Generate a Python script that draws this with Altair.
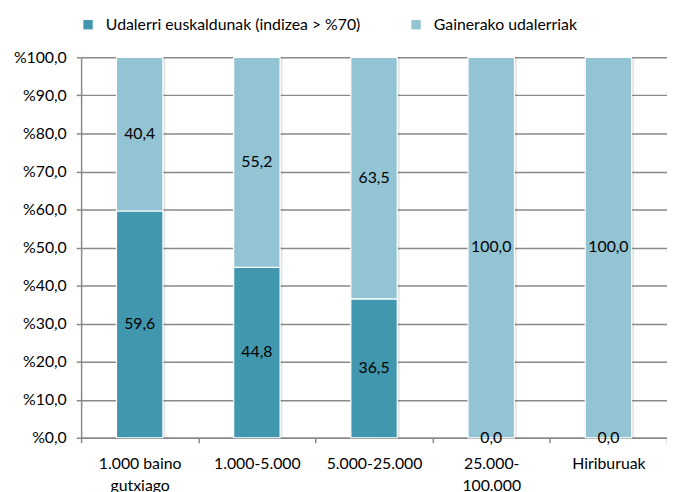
import altair as alt
import pandas as pd

categories = ["1.000 baino gutxiago", "1.000-5.000", "5.000-25.000", "25.000-100.000", "Hiriburuak"]
series = ["Udalerri euskaldunak (indizea > %70)", "Gainerako udalerriak"]
euskaldunak = [59.6, 44.8, 36.5, 0.0, 0.0]
gainerakoak = [40.4, 55.2, 63.5, 100.0, 100.0]
colors = ["#4197AE", "#93C4D4"]
y_ticks = [0, 10, 20, 30, 40, 50, 60, 70, 80, 90, 100]

rows = []
for i, c in enumerate(categories):
    rows.append({"cat": c, "series": series[0], "idx": 0, "value": euskaldunak[i]})
    rows.append({"cat": c, "series": series[1], "idx": 1, "value": gainerakoak[i]})
df = pd.DataFrame(rows)

FONT = "Lato"
GRID = "#898989"

base = alt.Chart(df).transform_stack(
    stack="value", groupby=["cat"], as_=["v0", "v1"], sort=[alt.SortField("idx")]
).transform_calculate(
    mid="(datum.v0 + datum.v1) / 2",
    label="replace(format(datum.value, '.1f'), '.', ',')",
)

x_axis = alt.Axis(
    title=None,
    labelAngle=0,
    tickBand="extent",
    tickSize=5,
    tickColor=GRID,
    tickWidth=1.5,
    domainColor=GRID,
    domainWidth=1.5,
    grid=False,
    labelPadding=13,
    labelLineHeight=22,
    labelFont=FONT,
    labelFontSize=16,
    labelColor="#000",
    labelOverlap=False,
    labelExpr="datum.value == '1.000 baino gutxiago' ? ['1.000 baino', 'gutxiago'] : datum.value == '25.000-100.000' ? ['25.000-', '100.000'] : datum.value",
)
x_enc = alt.X(
    "cat:N",
    sort=categories,
    scale=alt.Scale(paddingInner=0, paddingOuter=0),
    axis=x_axis,
)

y_scale = alt.Scale(domain=[0, 100], nice=False)
y_axis = alt.Axis(
    title=None,
    values=y_ticks,
    labelExpr="'%' + replace(format(datum.value, '.1f'), '.', ',')",
    labelOverlap=False,
    tickSize=5,
    tickColor=GRID,
    tickWidth=1.5,
    domainColor=GRID,
    domainWidth=1.5,
    gridColor=GRID,
    gridWidth=1.5,
    labelPadding=10,
    labelFont=FONT,
    labelFontSize=16,
    labelColor="#000",
)

shadow = base.mark_bar(size=50, color="#000", opacity=0.1, xOffset=1).encode(
    x=x_enc, y=alt.Y("v0:Q", scale=y_scale, axis=y_axis), y2="v1:Q"
)

bars = base.mark_bar(size=47, stroke="#ffffff", strokeWidth=1.2).encode(
    x=x_enc,
    y=alt.Y("v0:Q", scale=y_scale, axis=y_axis),
    y2="v1:Q",
    color=alt.Color(
        "series:N",
        scale=alt.Scale(domain=series, range=colors),
        legend=alt.Legend(
            title=None,
            orient="none",
            legendX=-1,
            legendY=-41,
            direction="horizontal",
            symbolType="square",
            symbolSize=90,
            symbolStrokeWidth=0,
            labelFont=FONT,
            labelFontSize=16,
            labelColor="#000",
            labelOffset=10,
            columnPadding=48,
            labelLimit=400,
        ),
    ),
)

labels = base.mark_text(font=FONT, fontSize=16, color="#000", baseline="middle").encode(
    x=x_enc,
    y=alt.Y("mid:Q", scale=y_scale, axis=y_axis),
    text="label:N",
)

chart = alt.layer(shadow, bars, labels).properties(
    width=593,
    height=385,
    autosize=alt.AutoSizeParams(type="none"),
    padding={"left": 74, "top": 47, "right": 0, "bottom": 52},
).configure_view(stroke=None)

chart.save("out.html", embed_options={"renderer": "svg", "actions": False})
